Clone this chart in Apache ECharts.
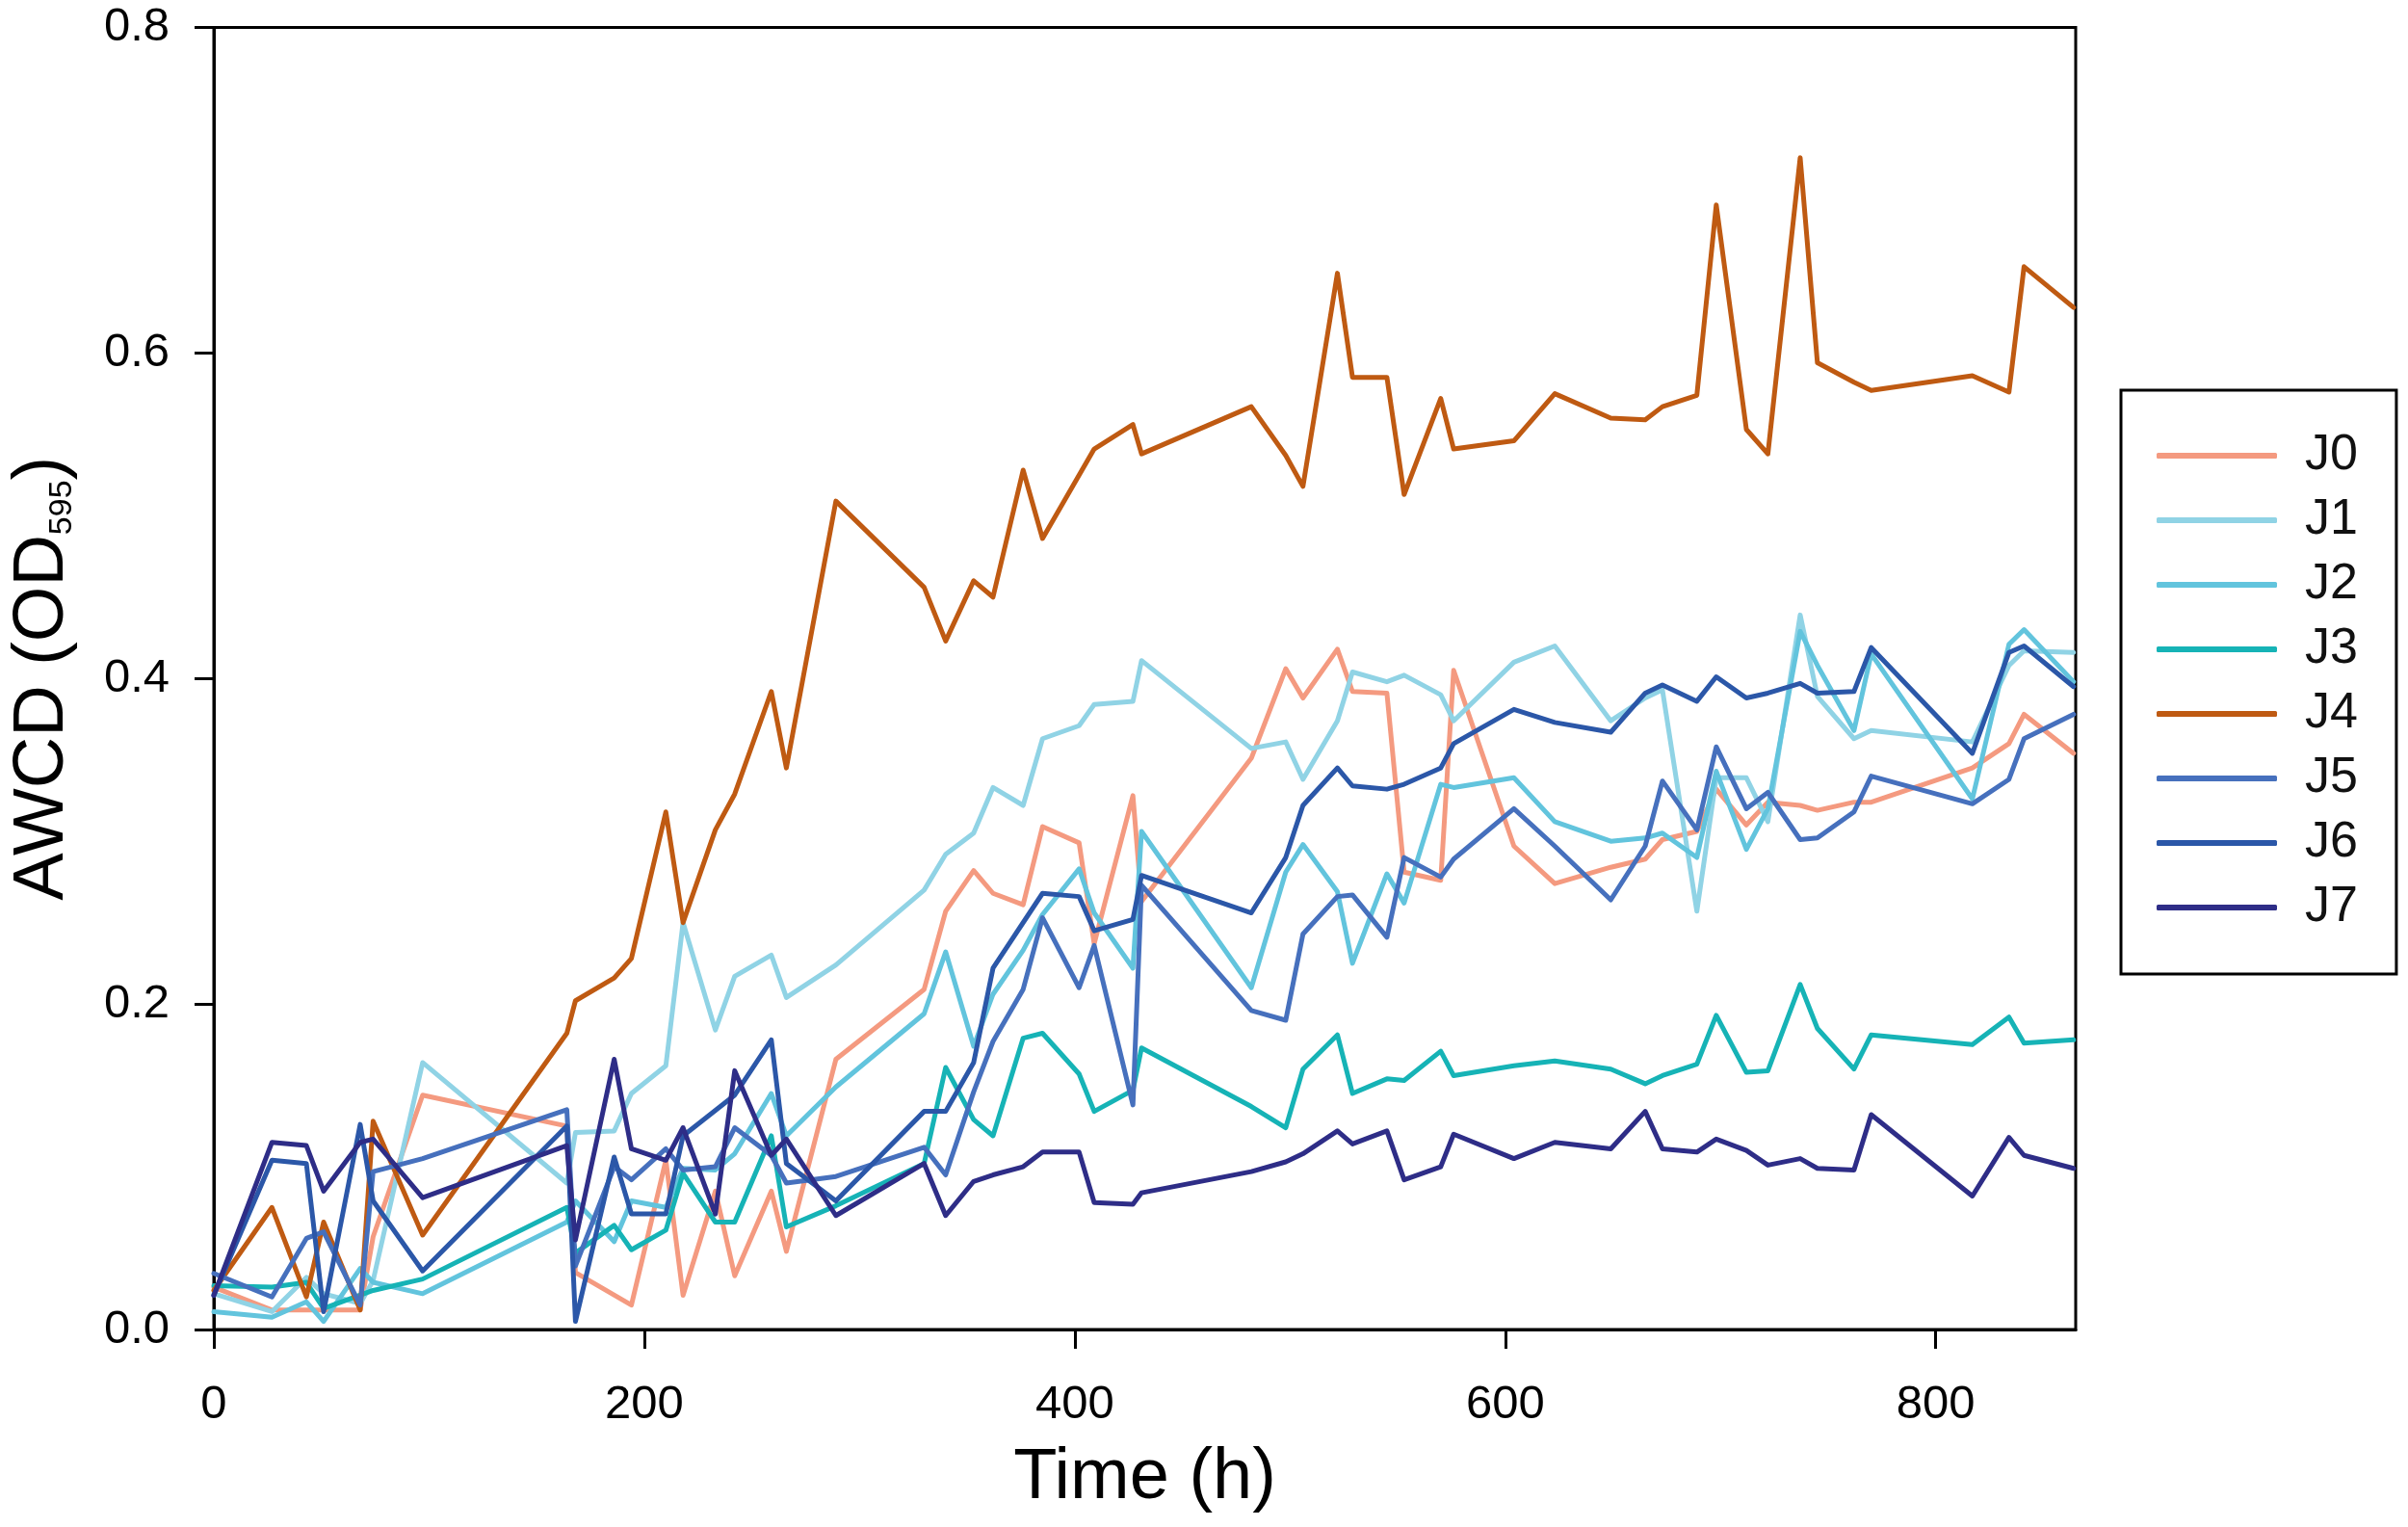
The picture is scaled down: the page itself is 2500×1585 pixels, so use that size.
<!DOCTYPE html>
<html>
<head>
<meta charset="utf-8">
<script src="https://cdn.jsdelivr.net/npm/echarts@6/dist/echarts.min.js"></script>
<style>
html,body{margin:0;padding:0;background:#fff;}
#chart{width:2500px;height:1585px;}
</style>
</head>
<body>
<div id="chart"></div>
<script>
// Sampling times (h)
const times = [0,27,43,51,68,74,97,164,168,186,194,210,218,233,242,259,266,289,330,340,353,362,376,385,402,409,427,431,482,498,506,522,529,545,553,570,576,604,623,649,665,673,689,698,712,722,737,745,762,770,817,834,841,864];

const seriesNames = ['J0','J1','J2','J3','J4','J5','J6','J7'];

const J0 = [0.026,0.012,0.012,0.012,0.012,0.057,0.144,0.125,0.035,null,0.015,0.104,0.021,0.085,0.033,0.085,0.048,0.166,0.209,0.257,0.282,0.268,0.261,0.309,0.299,0.237,0.328,0.263,0.351,0.406,0.388,0.418,0.392,0.391,0.281,0.276,0.405,0.297,0.274,0.284,0.289,0.301,0.306,0.332,0.310,0.324,0.322,0.319,0.324,0.324,0.345,0.360,0.378,0.354];
const J1 = [0.022,0.011,0.032,0.022,0.016,0.030,0.164,0.090,0.121,0.122,0.145,0.162,0.250,0.184,0.217,0.230,0.204,0.224,0.270,0.292,0.305,0.333,0.322,0.363,0.371,0.384,0.386,0.411,0.357,0.361,0.338,0.374,0.404,0.398,0.402,0.390,0.374,0.410,0.420,0.374,0.388,0.393,0.257,0.339,0.339,0.312,0.439,0.389,0.363,0.368,0.361,0.408,0.417,0.416];
const J2 = [0.011,0.0075,0.017,0.005,0.0375,0.029,0.022,0.066,0.079,0.054,0.079,0.075,0.099,0.098,0.108,0.145,0.119,0.149,0.194,0.232,0.174,0.206,0.233,0.255,0.283,0.256,0.222,0.306,0.210,0.281,0.298,0.269,0.225,0.280,0.262,0.335,0.333,0.339,0.312,0.300,0.302,0.305,0.290,0.343,0.295,0.320,0.429,0.408,0.368,0.415,0.326,0.421,0.430,0.398];
const J3 = [0.027,0.026,0.029,0.013,null,0.024,0.031,0.075,0.047,0.064,0.049,0.061,0.096,0.066,0.066,0.119,0.063,0.076,0.102,0.161,0.129,0.119,0.179,0.182,0.157,0.134,0.147,0.173,0.137,0.124,0.160,0.181,0.145,0.154,0.153,0.171,0.156,0.162,0.165,0.160,0.151,0.156,0.163,0.193,0.158,0.159,0.212,0.185,0.160,0.181,0.175,0.192,0.176,0.178];
const J4 = [0.024,0.075,0.020,0.066,0.012,0.128,0.058,0.182,0.202,0.216,0.228,0.318,0.250,0.307,0.329,0.392,0.345,0.509,0.456,0.423,0.460,0.450,0.528,0.486,null,0.541,0.556,0.538,0.567,0.537,0.518,0.649,0.585,0.585,0.513,0.572,0.541,0.546,0.575,0.560,0.559,0.567,0.574,0.691,0.553,0.538,0.720,0.594,0.582,0.577,0.586,0.576,0.653,0.628];
const J5 = [0.0345,0.020,0.056,0.060,0.015,0.097,0.105,0.135,0.039,0.100,0.092,0.111,0.098,0.100,0.124,0.107,0.090,0.094,0.112,0.095,0.146,0.177,0.209,0.253,0.210,0.236,0.138,0.273,0.196,0.190,0.243,0.266,0.267,0.241,0.290,0.278,0.289,0.320,0.297,0.264,0.297,0.337,0.307,0.358,0.320,0.330,0.301,0.302,0.318,0.340,0.323,0.338,0.363,0.378];
const J6 = [0.021,0.104,0.102,0.011,0.126,0.079,0.036,0.125,0.005,0.106,0.071,0.071,0.119,null,0.144,0.178,0.102,0.079,0.134,0.134,0.164,0.222,null,0.268,0.266,0.245,0.252,0.279,0.256,0.290,0.322,0.345,0.334,0.332,0.335,0.345,0.360,0.381,0.373,0.367,0.391,0.396,0.386,0.401,0.388,0.391,0.397,0.391,0.392,0.419,0.354,0.416,0.420,0.395];
const J7 = [0.021,0.115,0.113,0.085,0.115,0.117,0.081,0.113,0.055,0.166,0.111,0.104,0.124,0.071,0.159,0.107,0.117,0.070,0.102,0.070,0.091,0.095,0.100,0.109,0.109,0.078,0.077,0.084,0.097,0.103,0.108,0.122,0.114,0.122,0.092,0.100,0.120,0.105,0.115,0.111,0.134,0.111,0.109,0.117,0.110,0.101,0.105,0.099,0.098,0.132,0.082,0.118,0.107,0.099];

const xTicks = [0,200,400,600,800];
const yTicks = [0.0,0.2,0.4,0.6,0.8];

const colors = ['#F49A80','#90D3E5','#62C4DD','#16B3B6','#BF5A12','#4670BD','#2B57A8','#2E2D87'];
const values = [J0,J1,J2,J3,J4,J5,J6,J7];

const FONT = 'Liberation Sans, Arial, Helvetica, sans-serif';

const chart = echarts.init(document.getElementById('chart'), null, {renderer:'canvas'});

const series = seriesNames.map((name, k) => ({
  name: name,
  type: 'line',
  data: times.map((t, i) => [t, values[k][i]]),
  connectNulls: true,
  symbol: 'none',
  showSymbol: false,
  animation: false,
  lineStyle: {color: colors[k], width: 5, cap: 'round', join: 'round'},
  itemStyle: {color: colors[k]},
  z: 2
}));

chart.setOption({
  backgroundColor: '#fff',
  animation: false,
  grid: {
    left: 218.5, top: 28.5, right: 345, bottom: 205,
    show: true, borderColor: '#000', borderWidth: 3, backgroundColor: 'transparent'
  },
  legend: {
    data: seriesNames,
    orient: 'vertical',
    left: 2202,
    top: 405,
    padding: [42, 40, 43, 37],
    borderColor: '#000',
    borderWidth: 3,
    icon: 'roundRect',
    itemWidth: 125,
    itemHeight: 6,
    itemGap: 15,
    textStyle: {fontFamily: FONT, fontSize: 52, color: '#111', lineHeight: 52, padding: [0,0,0,24]}
  },
  xAxis: {
    type: 'value',
    min: 0, max: 865,
    interval: 200,
    name: 'Time (h)',
    nameLocation: 'middle',
    nameGap: 118,
    nameTextStyle: {fontFamily: FONT, fontSize: 74, color: '#000'},
    axisLine: {show: true, onZero: false, lineStyle: {color: '#000', width: 3}},
    axisTick: {show: true, length: 20, inside: false, lineStyle: {color: '#000', width: 3}, customValues: xTicks},
    axisLabel: {fontFamily: FONT, fontSize: 49, color: '#000', margin: 54, customValues: xTicks},
    splitLine: {show: false}
  },
  yAxis: {
    type: 'value',
    min: 0, max: 0.8,
    interval: 0.2,
    name: '{a|AWCD (OD}{s|595}{a|)}',
    nameLocation: 'middle',
    nameGap: 140,
    nameTextStyle: {
      fontFamily: FONT, color: '#000',
      rich: {
        a: {fontFamily: FONT, fontSize: 74, color: '#000', lineHeight: 80, verticalAlign: 'bottom'},
        s: {fontFamily: FONT, fontSize: 34, color: '#000', lineHeight: 40, verticalAlign: 'bottom', padding: [0,0,0,0]}
      }
    },
    axisLine: {show: true, onZero: false, lineStyle: {color: '#000', width: 3}},
    axisTick: {show: true, length: 20, lineStyle: {color: '#000', width: 3}, customValues: yTicks},
    axisLabel: {fontFamily: FONT, fontSize: 49, color: '#000', margin: 46, customValues: yTicks,
      formatter: v => v.toFixed(1)},
    splitLine: {show: false}
  },
  series: series
});
</script>
</body>
</html>
